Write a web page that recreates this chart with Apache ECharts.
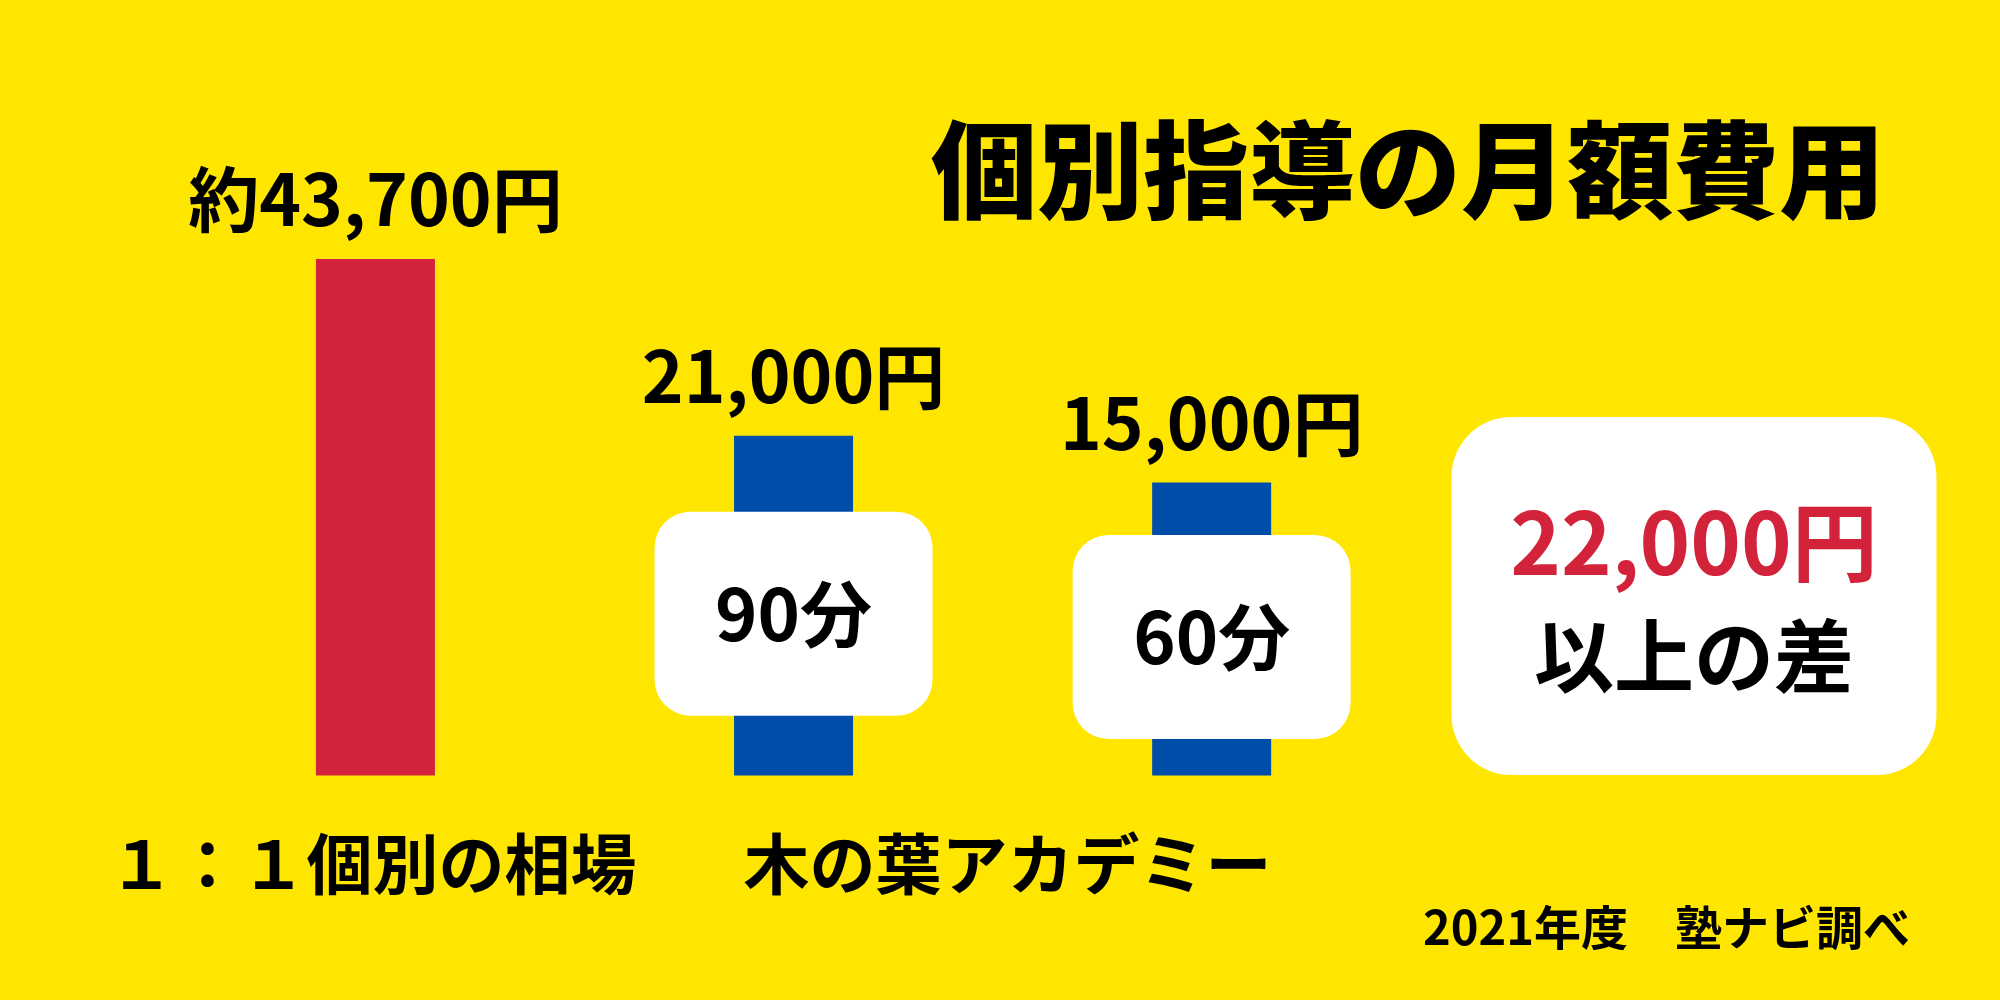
<!DOCTYPE html>
<html><head><meta charset="utf-8">
<script src="https://cdn.jsdelivr.net/npm/echarts@6/dist/echarts.min.js"></script>
<style>html,body{margin:0;padding:0;background:#FFE600}#c{width:2000px;height:1000px}</style>
</head><body><div id="c"></div>
<script>
// ---- data ----
const categories = ['１：１個別の相場', '木の葉アカデミー（90分）', '木の葉アカデミー（60分）'];
const monthlyFees = [43700, 21000, 15000];
const feeLabels = ['約43,700円', '21,000円', '15,000円'];
const lessonLengths = ['', '90分', '60分'];
const groupLabels = ['１：１個別の相場', '木の葉アカデミー'];
const groupMembers = [[0], [1, 2]];
const titleText = '個別指導の月額費用';
const diffAmount = '22,000円';
const diffText = '以上の差';
const sourceText = '2021年度　塾ナビ調べ';

// ---- styles ----
const FF = '"Noto Sans CJK JP", "Noto Sans", sans-serif';
const barColors = ['#D2233A', '#014DAA', '#014DAA'];

const chart = echarts.init(document.getElementById('c'), null, {renderer: 'canvas'});
chart.setOption({
  animation: false,
  backgroundColor: '#FFE600',
  grid: {left: 166.4, right: 579.3, top: 199, bottom: 224.5},
  xAxis: {type: 'category', data: categories, show: false},
  yAxis: {type: 'value', min: -22600, max: 51400, startValue: -22600, show: false, splitLine: {show: false}},
  series: [
    {
      type: 'bar', barWidth: 119,
      data: monthlyFees.map((v, i) => ({value: v, itemStyle: {color: barColors[i]}})),
      label: {
        show: true, position: 'top', distance: 24,
        formatter: p => feeLabels[p.dataIndex],
        fontSize: 71, fontWeight: 'bold', color: '#000', fontFamily: FF
      }
    },
    {
      type: 'bar', barWidth: 119, barGap: '-100%',
      itemStyle: {color: 'rgba(0,0,0,0)'},
      data: monthlyFees.map((v, i) => ({value: v, label: {show: lessonLengths[i] !== ''}})),
      label: {
        show: true, position: 'inside', offset: [0, 8],
        formatter: p => lessonLengths[p.dataIndex],
        backgroundColor: '#fff', borderRadius: 36,
        width: 278, height: 204, lineHeight: 204,
        align: 'center', verticalAlign: 'middle',
        fontSize: 72, fontWeight: 'bold', color: '#000', fontFamily: FF
      }
    }
  ]
});

const groupX = groupMembers.map(m => {
  const xs = m.map(i => chart.convertToPixel({xAxisIndex: 0}, i));
  return (Math.min(...xs) + Math.max(...xs)) / 2;
});

const graphics = [
  {type: 'text', x: 1408, y: 170, style: {text: titleText, fontSize: 106, fontWeight: 900, fontFamily: FF, fill: '#000', align: 'center', verticalAlign: 'middle'}},
  {type: 'rect', shape: {x: 1451.5, y: 417, width: 485, height: 358, r: 60}, style: {fill: '#fff'}},
  {type: 'text', x: 1694, y: 542, style: {text: diffAmount, fontSize: 86, fontWeight: 'bold', fontFamily: FF, fill: '#D2233A', align: 'center', verticalAlign: 'middle'}},
  {type: 'text', x: 1694, y: 656, style: {text: diffText, fontSize: 80, fontWeight: 'bold', fontFamily: FF, fill: '#000', align: 'center', verticalAlign: 'middle'}},
  {type: 'text', x: 1910, y: 927, style: {text: sourceText, fontSize: 47, fontWeight: 'bold', fontFamily: FF, fill: '#000', align: 'right', verticalAlign: 'middle'}}
].concat(groupLabels.map((t, i) => ({
  type: 'text', x: groupX[i] + (i === 0 ? -3 : 5), y: 863.5,
  style: {text: t, fontSize: 66, fontWeight: 'bold', fontFamily: FF, fill: '#000', align: 'center', verticalAlign: 'middle'}
})));
chart.setOption({graphic: graphics});
</script>
</body></html>
